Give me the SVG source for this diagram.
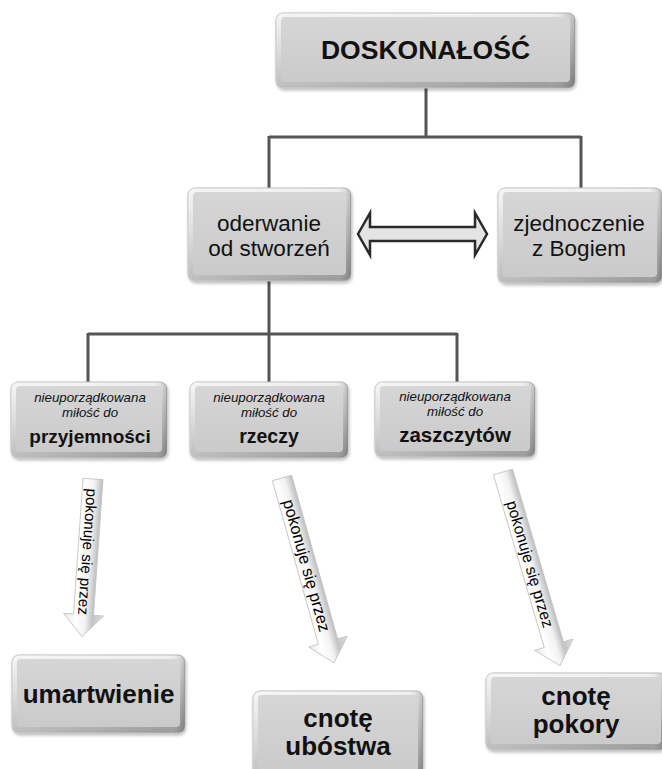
<svg xmlns="http://www.w3.org/2000/svg" width="662" height="769" viewBox="0 0 662 769">
<defs>
<linearGradient id="bev" x1="0" y1="0" x2="0" y2="1">
<stop offset="0" stop-color="#f2f2f2"/>
<stop offset="0.5" stop-color="#cacaca"/>
<stop offset="1" stop-color="#9a9a9a"/>
</linearGradient>
<linearGradient id="bevh" x1="0" y1="0" x2="1" y2="0">
<stop offset="0" stop-color="#ffffff" stop-opacity="0.35"/>
<stop offset="0.9" stop-color="#ffffff" stop-opacity="0"/>
<stop offset="1" stop-color="#000000" stop-opacity="0.22"/>
</linearGradient>
<linearGradient id="face" x1="0" y1="0" x2="0" y2="1">
<stop offset="0" stop-color="#d6d6d6"/>
<stop offset="1" stop-color="#cacaca"/>
</linearGradient>
<linearGradient id="arr" x1="0" y1="0" x2="1" y2="0">
<stop offset="0" stop-color="#e8e8e8"/>
<stop offset="0.3" stop-color="#ffffff"/>
<stop offset="0.55" stop-color="#f2f2f2"/>
<stop offset="0.72" stop-color="#c4c4c4"/>
<stop offset="1" stop-color="#e0e0e0"/>
</linearGradient>
<filter id="sh" x="-10%" y="-10%" width="120%" height="130%">
<feDropShadow dx="1" dy="2" stdDeviation="1.5" flood-color="#000" flood-opacity="0.25"/>
</filter>
</defs>
<style>
.outer{fill:url(#bev);stroke:#b8b8b8;stroke-width:1;filter:url(#sh)}
.hl{fill:url(#bevh)}
.inner{fill:url(#face)}
.conn{fill:none;stroke:#555;stroke-width:3}
text{font-family:"Liberation Sans",Arial,sans-serif;fill:#111;text-anchor:middle}
.big{font-weight:bold;font-size:26px}
.mid{font-size:22.5px}
.it{font-style:italic;font-size:13.3px}
.bold3{font-weight:bold;font-size:19.5px}
.barrow{fill:url(#arr);stroke:#c0c0c0;stroke-width:0.8}
.atext{font-size:16px;fill:#000}
.dbl{fill:#e4e4e4;stroke:#2a2a2a;stroke-width:2.5;stroke-linejoin:miter}
</style>

<g id="connectors">
<path class="conn" d="M426,88 V137 M269,137 H581 M269,136 V189 M581,136 V189"/>
<path class="conn" d="M269,281 V334 M88,334 H457 M88,333 V383 M269,333 V383 M457,333 V383"/>
<polygon class="dbl" points="358,234 370,213 370,227 475,227 475,213 487,234 475,255 475,241 370,241 370,255"/>
<g id="arrow1" transform="translate(93,479) rotate(4)">
<polygon class="barrow" points="-10,0 10,0 10,136 20,136 0,158 -20,136 -10,136"/>
<text class="atext" style="font-size:15.2px" transform="rotate(90)" x="73" y="5.5">pokonuje się przez</text>
</g>
<g id="arrow2" transform="translate(282,478) rotate(-15.7)">
<polygon class="barrow" points="-10,0 10,0 10,170 20,170 0,192 -20,170 -10,170"/>
<text class="atext" style="font-size:16.4px" transform="rotate(90)" x="91" y="5.5">pokonuje się przez</text>
</g>
<g id="arrow3" transform="translate(503,472) rotate(-16.4)">
<polygon class="barrow" points="-10,0 10,0 10,180 20,180 0,202 -20,180 -10,180"/>
<text class="atext" style="font-size:15.8px" transform="rotate(90)" x="96" y="5.5">pokonuje się przez</text>
</g>
</g>

<g id="n-doskonalosc">
<rect class="outer" x="276" y="13" width="299" height="75" rx="7"/>
<rect class="hl" x="276" y="13" width="299" height="75" rx="7"/>
<rect class="inner" x="281" y="17" width="289" height="65" rx="4"/>
<text class="big" style="font-size:26.5px" x="425.5" y="59">DOSKONAŁOŚĆ</text>
</g>

<g id="n-oderwanie">
<rect class="outer" x="188" y="188" width="163" height="93" rx="7"/>
<rect class="hl" x="188" y="188" width="163" height="93" rx="7"/>
<rect class="inner" x="193" y="192" width="153" height="83" rx="4"/>
<text class="mid" x="269" y="231">oderwanie</text>
<text class="mid" x="269" y="256">od stworzeń</text>
</g>

<g id="n-zjednoczenie">
<rect class="outer" x="498" y="188" width="164" height="95" rx="7"/>
<rect class="hl" x="498" y="188" width="164" height="95" rx="7"/>
<rect class="inner" x="503" y="192" width="154" height="85" rx="4"/>
<text class="mid" x="579" y="231">zjednoczenie</text>
<text class="mid" x="579" y="256">z Bogiem</text>
</g>

<g id="n-przyjemnosci">
<rect class="outer" x="11" y="382" width="156" height="76" rx="7"/>
<rect class="hl" x="11" y="382" width="156" height="76" rx="7"/>
<rect class="inner" x="16" y="386" width="146" height="66" rx="4"/>
<text class="it" x="90" y="402">nieuporządkowana</text>
<text class="it" x="90" y="417">miłość do</text>
<text class="bold3" style="font-size:19px" x="90" y="443">przyjemności</text>
</g>

<g id="n-rzeczy">
<rect class="outer" x="190" y="382" width="158" height="76" rx="7"/>
<rect class="hl" x="190" y="382" width="158" height="76" rx="7"/>
<rect class="inner" x="195" y="386" width="148" height="66" rx="4"/>
<text class="it" x="269" y="402">nieuporządkowana</text>
<text class="it" x="269" y="417">miłość do</text>
<text class="bold3" x="269" y="443">rzeczy</text>
</g>

<g id="n-zaszczytow">
<rect class="outer" x="375" y="382" width="160" height="75" rx="7"/>
<rect class="hl" x="375" y="382" width="160" height="75" rx="7"/>
<rect class="inner" x="380" y="386" width="150" height="65" rx="4"/>
<text class="it" x="455" y="401">nieuporządkowana</text>
<text class="it" x="455" y="416">miłość do</text>
<text class="bold3" style="font-size:20.5px" x="455" y="442">zaszczytów</text>
</g>

<g id="n-umartwienie">
<rect class="outer" x="12" y="655" width="173" height="78" rx="7"/>
<rect class="hl" x="12" y="655" width="173" height="78" rx="7"/>
<rect class="inner" x="17" y="659" width="163" height="68" rx="4"/>
<text class="big" x="98.5" y="703">umartwienie</text>
</g>

<g id="n-ubostwa">
<rect class="outer" x="253" y="691" width="170" height="90" rx="7"/>
<rect class="hl" x="253" y="691" width="170" height="90" rx="7"/>
<rect class="inner" x="258" y="695" width="160" height="80" rx="4"/>
<text class="big" x="338" y="727">cnotę</text>
<text class="big" x="338" y="755">ubóstwa</text>
</g>

<g id="n-pokory">
<rect class="outer" x="486" y="673" width="180" height="77" rx="7"/>
<rect class="hl" x="486" y="673" width="180" height="77" rx="7"/>
<rect class="inner" x="491" y="677" width="170" height="67" rx="4"/>
<text class="big" x="576" y="705">cnotę</text>
<text class="big" x="576" y="733">pokory</text>
</g>
</svg>
